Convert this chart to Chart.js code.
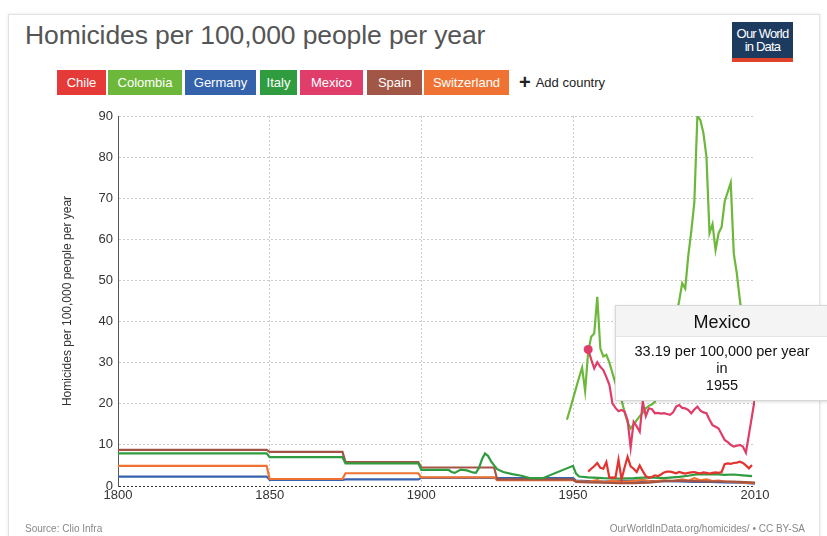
<!DOCTYPE html>
<html><head><meta charset="utf-8">
<script src="https://cdn.jsdelivr.net/npm/chart.js@4"></script>
<style>
html,body{margin:0;padding:0;background:#fff;width:827px;height:536px;overflow:hidden;font-family:"Liberation Sans",Arial,sans-serif;}
#card{position:absolute;left:8px;top:14px;width:810px;height:540px;border:1px solid #e2e2e2;box-shadow:0 0 3px rgba(0,0,0,0.10);background:#fff;}
#title{position:absolute;left:25px;top:20px;font-size:26.5px;color:#555;white-space:nowrap;letter-spacing:-0.1px;}
#logo{position:absolute;left:732px;top:22px;width:61px;height:40px;background:#1d3b5f;color:#fff;text-align:center;font-size:13px;line-height:13px;letter-spacing:-0.8px;box-sizing:border-box;padding-top:5px;border-bottom:4px solid #e0422b;}
.btn{position:absolute;top:70px;height:25px;line-height:25px;color:#fff;font-size:13px;text-align:center;white-space:nowrap;}
#add{position:absolute;left:519px;top:70px;height:25px;line-height:25px;font-size:13px;color:#222;white-space:nowrap;}
#add b{font-size:20px;vertical-align:-2px;margin-right:5px;}
#c{position:absolute;left:0;top:0;}
#src{position:absolute;left:25px;top:523px;font-size:10px;color:#888;}
#lic{position:absolute;right:22px;top:523px;font-size:10px;color:#888;}
#tip{position:absolute;width:212px;background:#fff;border:1px solid #d8d8d8;box-shadow:0 1px 3px rgba(0,0,0,0.15);text-align:center;color:#111;}
#tip .h{background:#f4f4f4;border-bottom:1px solid #e4e4e4;font-size:18px;height:30px;line-height:32px;}
#tip .b{font-size:14.5px;line-height:17px;padding:6px 0 6px 0;}
</style></head>
<body>
<div id="card"></div>
<div id="title">Homicides per 100,000 people per year</div>
<div id="logo">Our World<br>in Data</div>
<div id="legend"></div>
<div id="add"><b>+</b>Add country</div>
<canvas id="c" width="827" height="536"></canvas>
<div id="src">Source: Clio Infra</div>
<div id="lic">OurWorldInData.org/homicides/ • CC BY-SA</div>
<div id="tip"><div class="h">Mexico</div><div class="b">33.19 per 100,000 per year<br>in<br>1955</div></div>
<script>
const countries = ["Chile","Colombia","Germany","Italy","Mexico","Spain","Switzerland"];
const xTicks = [1800,1850,1900,1950,2010];
const yTicks = [0,10,20,30,40,50,60,70,80,90];

const chileYears = [1955,1956,1957,1958,1959,1960,1961,1962,1963,1964,1965,1966,1967,1968,1969,1970,1971,1972,1973,1974,1975,1976,1977,1978,1979,1980,1981,1982,1983,1984,1985,1986,1987,1988,1989,1990,1991,1992,1993,1994,1995,1996,1997,1998,1999,2000,2001,2002,2003,2004,2005,2006,2007,2008,2009];
const chileValues = [3.5,4.2,4.8,5.6,4.4,4.2,5.8,2.0,2.1,2.0,6.4,1.6,4.5,7.1,4.8,4.2,3.4,5.0,3.6,2.4,2.0,2.2,2.6,2.4,2.8,3.3,3.5,3.5,3.3,3.1,3.4,3.2,3.0,3.2,3.3,3.4,3.2,3.1,3.3,3.2,3.0,3.2,3.3,3.2,3.4,5.3,5.5,5.4,5.6,5.7,5.9,5.6,5.0,4.3,5.1];

const colombiaYears = [1948,1949,1950,1951,1952,1953,1954,1955,1956,1957,1958,1959,1960,1961,1962,1963,1964,1965,1966,1967,1968,1969,1970,1971,1972,1973,1974,1975,1976,1977,1978,1979,1980,1981,1982,1983,1984,1985,1986,1987,1988,1989,1990,1991,1992,1993,1994,1995,1996,1997,1998,1999,2000,2001,2002,2003,2004,2005,2006,2007,2008,2009,2010];
const colombiaValues = [16.1,18.6,21.2,23.8,26.4,28.8,23.1,32.7,36.3,37.1,46.0,33.5,31.5,31.9,30.0,27.5,25.0,22.8,20.9,18.0,15.5,14.0,15.0,16.0,17.0,17.8,18.9,19.5,19.8,20.5,23.5,26.8,31.2,33.9,36.5,38.2,41.5,45.0,49.3,48.0,56.0,62.0,69.0,90.0,89.0,85.8,80.0,61.5,63.7,57.4,61.5,63.0,69.2,71.5,73.8,56.6,51.7,45.3,40.0,37.5,35.5,34.0,33.0];

const germanyYears = [1800,1849,1850,1874,1875,1899,1900,1924,1925,1950,1951,1955,1960,1965,1970,1975,1980,1985,1990,1995,2000,2005,2010];
const germanyValues = [2.3,2.3,1.5,1.5,1.6,1.6,2.0,2.0,1.9,1.9,1.3,1.2,1.1,1.2,1.3,1.2,1.2,1.1,1.0,1.0,0.9,0.8,0.6];

const italyYears = [1800,1849,1850,1874,1875,1899,1900,1909,1910,1911,1913,1915,1917,1918,1919,1920,1921,1922,1923,1924,1925,1927,1930,1933,1936,1940,1950,1951,1952,1955,1960,1965,1970,1975,1980,1985,1988,1991,1994,1997,2000,2003,2006,2009];
const italyValues = [7.95,7.95,7.0,7.0,5.5,5.5,3.9,3.9,3.4,3.2,4.0,3.8,3.3,3.2,4.4,6.5,7.9,7.3,6.0,5.0,4.1,3.4,2.9,2.5,1.9,1.9,4.9,3.0,2.3,2.1,1.9,1.8,1.9,2.1,1.9,2.2,2.5,2.9,2.8,2.9,2.7,2.8,2.6,2.4];

const mexicoYears = [1955,1956,1957,1958,1959,1960,1961,1962,1963,1964,1965,1966,1967,1968,1969,1970,1971,1972,1973,1974,1975,1976,1977,1978,1979,1980,1981,1982,1983,1984,1985,1986,1987,1988,1989,1990,1991,1992,1993,1994,1995,1996,1997,1998,1999,2000,2001,2002,2003,2004,2005,2006,2007,2008,2009,2010];
const mexicoValues = [33.19,30.8,28.6,30.1,29.0,28.2,26.5,24.6,20.1,19.0,18.2,18.5,18.1,16.0,9.3,15.6,14.5,13.2,20.5,17.0,18.9,18.7,17.7,17.8,17.6,17.7,17.5,17.3,17.9,19.3,19.7,19.0,18.9,18.5,17.7,18.6,19.3,18.3,17.9,17.7,16.1,14.8,14.4,14.0,12.6,11.2,10.7,10.0,9.6,9.8,10.0,9.6,8.1,12.5,17.0,21.5];

const spainYears = [1800,1849,1850,1874,1875,1899,1900,1924,1925,1950,1951,1955,1960,1965,1970,1975,1980,1985,1990,1995,2000,2005,2010];
const spainValues = [8.8,8.8,8.3,8.3,5.8,5.8,4.5,4.5,1.6,1.6,1.0,0.9,0.8,0.7,0.7,0.8,1.2,1.3,1.2,1.1,1.1,1.0,0.8];

const switzerlandYears = [1800,1849,1850,1874,1875,1899,1900,1924,1925,1950,1951,1955,1958,1960,1963,1966,1970,1973,1976,1980,1983,1986,1988,1990,1992,1994,1996,1998,2000,2003,2006,2010];
const switzerlandValues = [4.9,4.9,1.7,1.7,3.1,3.1,2.1,2.1,1.4,1.4,1.2,1.0,1.4,0.9,1.3,1.0,1.2,1.5,1.1,1.4,1.2,1.6,1.3,1.9,1.4,1.6,1.2,1.3,1.1,1.0,0.8,0.7];

const colors = {Chile:"#e3332f",Colombia:"#6db83b",Germany:"#3762ad",Italy:"#2f9c3f",Mexico:"#df3c68",Spain:"#a45444",Switzerland:"#f07232"};
const btnBg = {Chile:"#e53a37",Colombia:"#6db83b",Germany:"#3462ab",Italy:"#2f9c3f",Mexico:"#e03d6b",Spain:"#a15646",Switzerland:"#f07232"};
const btnPos = [[57,49],[108,74],[185,71],[260,37],[300,63],[367,55],[424,85]];

const leg = document.getElementById('legend');
countries.forEach((c,i)=>{
  const d=document.createElement('div');d.className='btn';d.textContent=c;
  d.style.left=btnPos[i][0]+'px';d.style.width=btnPos[i][1]+'px';d.style.background=btnBg[c];
  leg.appendChild(d);
});

const series = {
  Chile:[chileYears,chileValues], Colombia:[colombiaYears,colombiaValues], Germany:[germanyYears,germanyValues],
  Italy:[italyYears,italyValues], Mexico:[mexicoYears,mexicoValues], Spain:[spainYears,spainValues], Switzerland:[switzerlandYears,switzerlandValues]
};
const drawOrder = ["Mexico","Colombia","Chile","Italy","Spain","Switzerland","Germany"];
const datasets = drawOrder.map(c=>({
  label:c,
  data: series[c][0].map((y,i)=>({x:y,y:series[c][1][i]})),
  borderColor: colors[c], backgroundColor: colors[c],
  borderWidth: 2.2, pointRadius: 0, tension: 0, fill:false
}));

const hoverPlugin = {
  id:'hover',
  afterDraw(chart){
    const idx = chart.data.datasets.findIndex(d=>d.label==='Mexico');
    const pt = chart.getDatasetMeta(idx).data[0];
    const ctx = chart.ctx;
    ctx.save();
    ctx.fillStyle = colors.Mexico;
    ctx.beginPath(); ctx.arc(pt.x, pt.y, 4.5, 0, Math.PI*2); ctx.fill();
    ctx.restore();
    const tip = document.getElementById('tip');
    tip.style.left = Math.round(pt.x + 27) + 'px';
    tip.style.top = Math.round(pt.y - 45) + 'px';
  }
};

const font = {family:'"Liberation Sans", Arial, sans-serif'};
new Chart(document.getElementById('c'), {
  type:'line',
  data:{datasets},
  plugins:[hoverPlugin],
  options:{
    responsive:false, animation:false, devicePixelRatio:1,
    layout:{padding:{left:56,top:116,right:72,bottom:30}},
    plugins:{legend:{display:false},tooltip:{enabled:false}},
    scales:{
      x:{
        type:'linear', min:1800, max:2010,
        afterBuildTicks:(s)=>{ s.ticks = xTicks.map(v=>({value:v})); },
        afterFit:(s)=>{ s.height = 20; },
        ticks:{color:'#333', font:{...font,size:13}, padding:2, maxRotation:0, autoSkip:false, callback:(v)=>String(v)},
        grid:{drawTicks:false, color:(c)=> (c.tick && (c.tick.value===1800 || c.tick.value===2010)) ? 'rgba(0,0,0,0)' : '#cccccc', lineWidth:1},
        border:{display:false, dash:[2,2]}
      },
      y:{
        min:0, max:90,
        afterBuildTicks:(s)=>{ s.ticks = yTicks.map(v=>({value:v})); },
        afterFit:(s)=>{ s.width = 62; },
        ticks:{color:'#333', font:{...font,size:13}, padding:5},
        title:{display:true, text:'Homicides per 100,000 people per year', color:'#333', font:{...font,size:12}, padding:{top:4,bottom:4}},
        grid:{drawTicks:false, color:(c)=> (c.tick && c.tick.value===0) ? '#333' : '#cccccc', lineWidth:1},
        border:{display:true, color:'#555', width:1, dash:[2,2]}
      }
    }
  }
});
</script>
</body></html>
